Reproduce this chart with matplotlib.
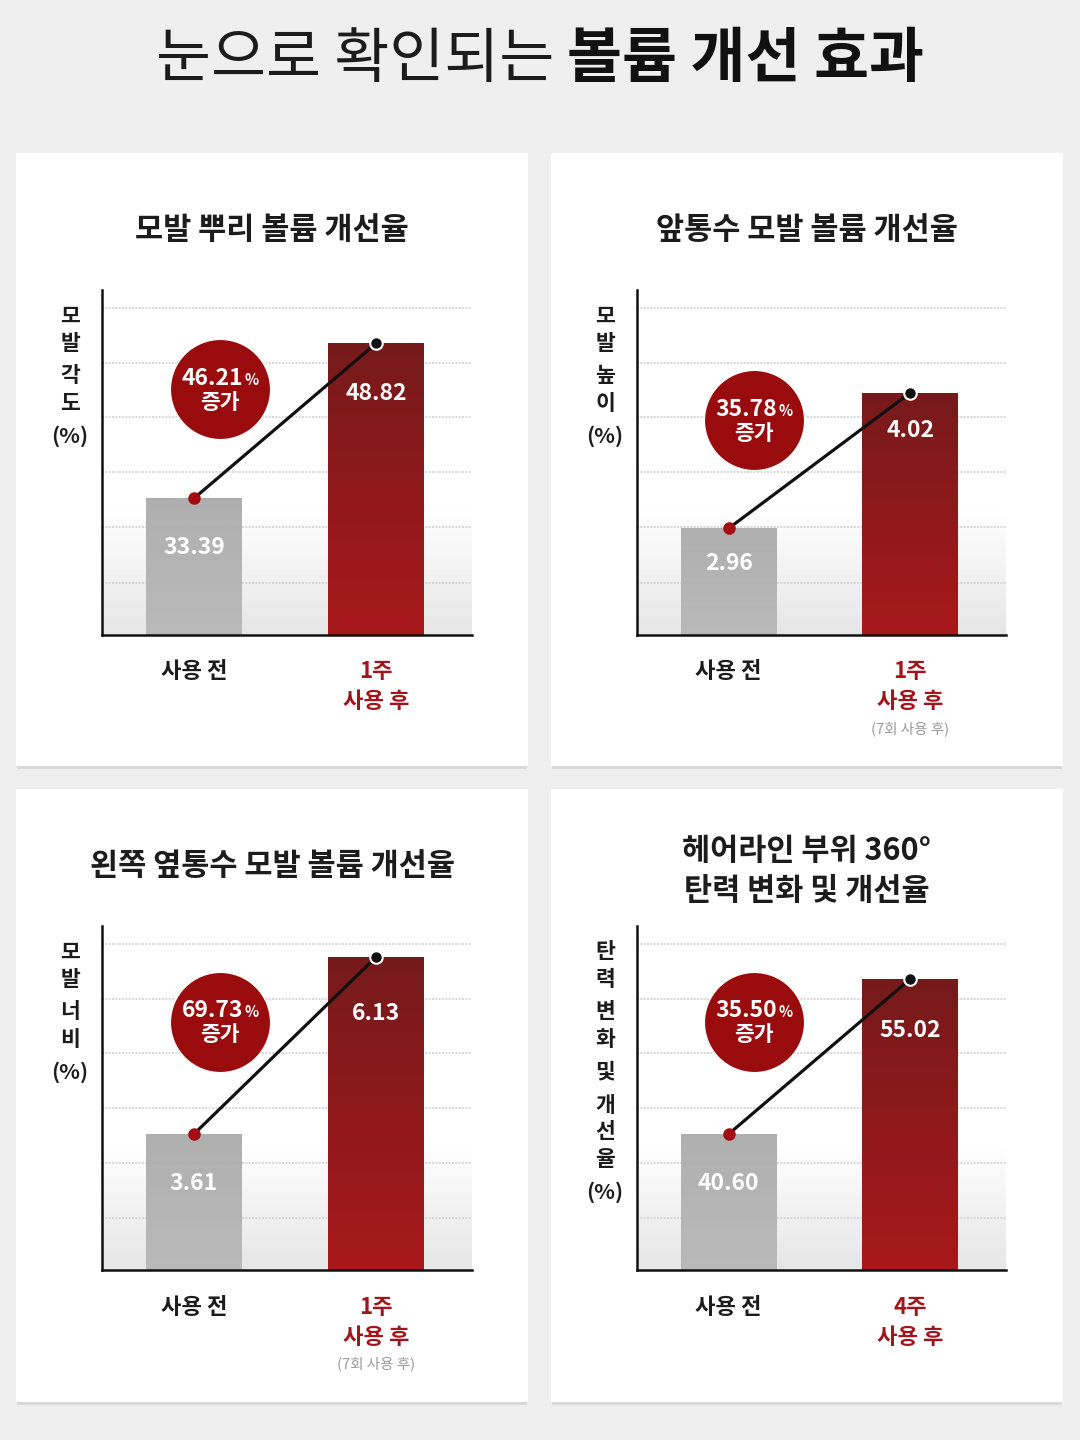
import numpy as np
import matplotlib
matplotlib.use("Agg")
import matplotlib.pyplot as plt
from matplotlib.patches import Rectangle
from matplotlib.colors import LinearSegmentedColormap
from matplotlib.offsetbox import TextArea, HPacker, AnnotationBbox

plt.rcParams['font.family'] = ['Noto Sans CJK KR', 'DejaVu Sans']

# ---------------- data ----------------
MAIN_TITLE_LIGHT = "눈으로 확인되는 "
MAIN_TITLE_BOLD = "볼륨 개선 효과"
PANEL_TITLES = ["모발 뿌리 볼륨 개선율",
                "앞통수 모발 볼륨 개선율",
                "왼쪽 옆통수 모발 볼륨 개선율",
                "헤어라인 부위 360°\n탄력 변화 및 개선율"]
Y_LABELS = [["모발", "각도", "(%)"],
            ["모발", "높이", "(%)"],
            ["모발", "너비", "(%)"],
            ["탄력", "변화", "및", "개선율", "(%)"]]
BEFORE_LABEL = "사용 전"
AFTER_LABEL = "사용 후"
AFTER_PERIODS = ["1주", "1주", "1주", "4주"]
AFTER_NOTES = ["", "(7회 사용 후)", "(7회 사용 후)", ""]
BEFORE_VALUES = [33.39, 2.96, 3.61, 40.60]
AFTER_VALUES = [48.82, 4.02, 6.13, 55.02]
INCREASE_PCT = ["46.21", "35.78", "69.73", "35.50"]
INCREASE_WORD = "증가"

# ---------------- style / layout ----------------
W, H = 1080, 1440
BG = '#efefef'
DARK = '#1c1c1c'
RED_TXT = '#a3141a'
CIRCLE_RED = '#9a0b0e'
CARDS = [(16, 153, 528, 766), (551, 153, 1063, 766),
         (16, 789, 528, 1402), (551, 789, 1063, 1402)]
AXES_BOX = [(102, 290, 472, 635), (637, 290, 1006, 635),
            (102, 926, 472, 1270), (637, 926, 1006, 1270)]
YLIMS = [(19.78, 54.14), (2.126, 4.823), (1.673, 6.573), (27.95, 59.95)]
XLIM = (-0.505, 1.527)
BAR_W = 0.527
GRID_FRACS = [0.150, 0.312, 0.472, 0.631, 0.788, 0.949]
CIRCLE_POS = [(0.319, 0.713), (0.317, 0.623), (0.319, 0.721), (0.317, 0.721)]
VALUE_OFFSETS_PX = [(49, 50), (35, 38), (49, 56), (49, 52)]  # (before, after)
TITLE_Y = [230, 230, 866, 871]

PX2PT = 72 / 100.0


def fx(x):
    return x / W


def fy(y):
    return 1 - y / H


fig = plt.figure(figsize=(10.8, 14.4), dpi=100)
fig.patch.set_facecolor(BG)

# cards with a subtle bottom shadow
for (x0, y0, x1, y1) in CARDS:
    fig.add_artist(Rectangle((fx(x0 + 1), fy(y1 + 3)), (x1 - x0 - 2) / W, (y1 - y0 + 3) / H,
                             transform=fig.transFigure, fc='#d9d9d9', ec='none', zorder=-20))
    fig.add_artist(Rectangle((fx(x0), fy(y1)), (x1 - x0) / W, (y1 - y0) / H,
                             transform=fig.transFigure, fc='white', ec='none', zorder=-10))

# main title (two weights)
t1 = TextArea(MAIN_TITLE_LIGHT, textprops=dict(fontsize=43, color=DARK, fontweight='normal'))
t2 = TextArea(MAIN_TITLE_BOLD, textprops=dict(fontsize=43, color='#111111', fontweight='bold'))
hp = HPacker(children=[t1, t2], align='baseline', pad=0, sep=0)
fig.add_artist(AnnotationBbox(hp, (0.5, fy(60)), xycoords='figure fraction',
                              frameon=False, box_alignment=(0.5, 0.5)))

bg_cmap = LinearSegmentedColormap.from_list('bg', ['#e6e6e6', '#ffffff'])
red_cmap = LinearSegmentedColormap.from_list('red', ['#a8181b', '#761a1c'])
gray_cmap = LinearSegmentedColormap.from_list('gray', ['#b9b9b9', '#acacac'])
grad = np.linspace(0, 1, 256).reshape(-1, 1)

for i in range(4):
    x0, y0, x1, y1 = AXES_BOX[i]
    ax = fig.add_axes([fx(x0), fy(y1), (x1 - x0) / W, (y1 - y0) / H])
    ax.set_facecolor('none')
    lo, hi = YLIMS[i]

    # background soft gradient near the bottom
    ax.imshow(grad, extent=(0, 1, 0, 0.36), transform=ax.transAxes, cmap=bg_cmap,
              origin='lower', aspect='auto', zorder=0)
    # dotted gridlines
    for g in GRID_FRACS:
        ax.plot([0, 1], [g, g], transform=ax.transAxes, color='#d2d2d2', lw=1.2,
                ls=(0, (1.2, 0.8)), zorder=1)

    vals = [BEFORE_VALUES[i], AFTER_VALUES[i]]
    bars = ax.bar([0, 1], vals, width=BAR_W, color=['#b3b3b3', '#8e191b'], zorder=2)
    for bar, cmap, alpha in zip(bars, [gray_cmap, red_cmap], [0.93, 1.0]):
        bx, bw, bh = bar.get_x(), bar.get_width(), bar.get_height()
        bar.set_alpha(alpha * 0.5 if alpha < 1 else 1.0)
        im = ax.imshow(grad, extent=(bx, bx + bw, lo, bh), origin='lower', cmap=cmap,
                       aspect='auto', zorder=2.5, alpha=alpha)
        im.set_clip_path(bar)

    # connecting line and markers
    ax.plot([0, 1], vals, color='#111111', lw=2.3, zorder=4, solid_capstyle='round')
    ax.plot([0], [vals[0]], 'o', ms=8, color='#a30c12', zorder=5)
    ax.plot([1], [vals[1]], 'o', ms=9, mfc='#111111', mec='white', mew=1.5, zorder=5)

    # value labels
    for xi, v, off in zip([0, 1], vals, VALUE_OFFSETS_PX[i]):
        ax.annotate(f"{v:.2f}", (xi, v), xytext=(0, -off * PX2PT), textcoords='offset points',
                    ha='center', va='center', color='white', fontsize=16.5,
                    fontweight='bold', zorder=6)

    # increase badge
    cx, cy = CIRCLE_POS[i]
    ax.plot([cx], [cy], 'o', ms=72, color=CIRCLE_RED, mec='white', mew=0.8,
            transform=ax.transAxes, zorder=6, clip_on=False)
    num = TextArea(INCREASE_PCT[i], textprops=dict(color='white', fontsize=16.5, fontweight='bold'))
    pct = TextArea("%", textprops=dict(color='white', fontsize=10.5, fontweight='bold'))
    row = HPacker(children=[num, pct], align='baseline', pad=0, sep=1)
    ax.add_artist(AnnotationBbox(row, (cx, cy), xycoords=ax.transAxes,
                                 xybox=(0, 11 * PX2PT), boxcoords='offset points',
                                 frameon=False, box_alignment=(0.5, 0.5), zorder=7))
    ax.annotate(INCREASE_WORD, (cx, cy), xycoords=ax.transAxes,
                xytext=(0, -13 * PX2PT), textcoords='offset points',
                ha='center', va='center', color='white', fontsize=15.5,
                fontweight='bold', zorder=7)

    # axes styling
    ax.set_xlim(*XLIM)
    ax.set_ylim(lo, hi)
    ax.set_xticks([])
    ax.set_yticks([])
    for s in ['top', 'right']:
        ax.spines[s].set_visible(False)
    for s in ['left', 'bottom']:
        ax.spines[s].set_color('#111111')
        ax.spines[s].set_linewidth(1.8)
        ax.spines[s].set_zorder(8)

    # x category labels
    tr = ax.get_xaxis_transform()
    ax.annotate(BEFORE_LABEL, (0, 0), xycoords=tr, xytext=(0, -37 * PX2PT),
                textcoords='offset points', ha='center', va='center',
                fontsize=16, fontweight='bold', color=DARK, annotation_clip=False)
    ax.annotate(AFTER_PERIODS[i], (1, 0), xycoords=tr, xytext=(0, -37 * PX2PT),
                textcoords='offset points', ha='center', va='center',
                fontsize=16, fontweight='bold', color=RED_TXT, annotation_clip=False)
    ax.annotate(AFTER_LABEL, (1, 0), xycoords=tr, xytext=(0, -67 * PX2PT),
                textcoords='offset points', ha='center', va='center',
                fontsize=16, fontweight='bold', color=RED_TXT, annotation_clip=False)
    if AFTER_NOTES[i]:
        ax.annotate(AFTER_NOTES[i], (1, 0), xycoords=tr, xytext=(0, -94 * PX2PT),
                    textcoords='offset points', ha='center', va='center',
                    fontsize=10.5, color='#9a9a9a', annotation_clip=False)

    # vertical stacked y-label
    ylab_x = x0 - 32
    yy = y0 + 26
    for w in Y_LABELS[i]:
        tokens = [w] if w.startswith('(') else list(w)
        for tk in tokens:
            fig.text(fx(ylab_x), fy(yy), tk, ha='center', va='center', fontsize=15.5,
                     fontweight='bold', color=DARK)
            yy += 27
        yy += 6

    # panel title
    cx0, cy0, cx1, cy1 = CARDS[i]
    fig.text(fx((cx0 + cx1) / 2), fy(TITLE_Y[i]), PANEL_TITLES[i], ha='center', va='center',
             fontsize=22, fontweight='bold', color=DARK, linespacing=1.3)

fig.savefig('out.png', dpi=100, facecolor=fig.get_facecolor())
